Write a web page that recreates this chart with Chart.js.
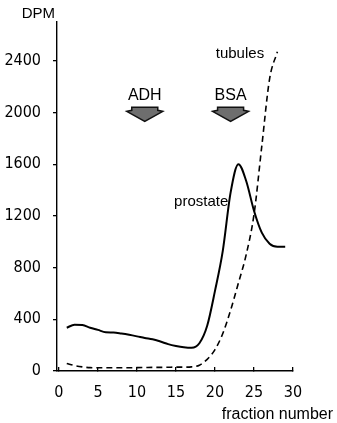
<!DOCTYPE html>
<html lang="en">
<head>
<meta charset="UTF-8">
<title>DPM per fraction</title>
<script src="https://cdn.jsdelivr.net/npm/chart.js"></script>
<style>
    html, body { margin: 0; padding: 0; background: #fff; }
    #wrap { width: 337px; height: 423px; }
</style>
</head>
<body>
<div id="wrap"><canvas id="chart" width="337" height="423"></canvas></div>
<script>
// fractions and DPM
const prostateFractions = [1, 2, 3, 4, 5, 6, 7, 8, 9, 10, 11, 12, 13, 14, 15, 16, 17, 18, 19, 20, 21, 22, 23, 24, 25, 26, 27, 28, 29];
const prostateDpm = [335, 358, 355, 335, 318, 300, 298, 290, 280, 268, 255, 245, 228, 208, 194, 184, 180, 215, 350, 620, 930, 1380, 1600, 1470, 1240, 1070, 985, 962, 962];

const tubulesFractions = [1, 2, 3, 4, 5, 6, 7, 8, 9, 10, 11, 12, 13, 14, 15, 16, 17, 18, 19, 20, 21, 22, 23, 24, 25, 26, 27, 28];
const tubulesDpm = [58, 42, 32, 26, 25, 25, 25, 25, 25, 26, 27, 28, 28, 29, 30, 30, 32, 45, 90, 165, 290, 470, 680, 900, 1210, 1740, 2260, 2470];

const xTicks = [0, 5, 10, 15, 20, 25, 30];
const yTicks = [0, 400, 800, 1200, 1600, 2000, 2400];

// enzyme markers (fraction, DPM at arrow top)
const markerLabels = ['ADH', 'BSA'];
const markerFractions = [11, 22];
const markerDpm = 2040;

const numFont = { family: '"DejaVu Sans Condensed", sans-serif', size: 16 };
const textFont = '15px "Liberation Sans", Arial, sans-serif';

function toPoints(xs, ys) {
    return xs.map((x, i) => ({ x: x, y: ys[i] }));
}

const annotations = {
    id: 'annotations',
    afterDraw(chart) {
        const ctx = chart.ctx;
        const x = chart.scales.x;
        const y = chart.scales.y;
        ctx.save();
        ctx.fillStyle = '#000';

        // axis names
        ctx.font = textFont;
        ctx.textAlign = 'right';
        ctx.textBaseline = 'middle';
        ctx.fillText('DPM', x.left - 2, 14);
        ctx.font = '16px "Liberation Sans", Arial, sans-serif';
        ctx.fillText('fraction number', x.right + 40, chart.chartArea.bottom + 44);

        // curve labels
        ctx.font = textFont;
        ctx.fillText('tubules', x.getPixelForValue(26.3), y.getPixelForValue(2450));
        ctx.fillText('prostate', x.getPixelForValue(21.7), y.getPixelForValue(1310));

        // arrows
        markerLabels.forEach((label, i) => {
            const cx = x.getPixelForValue(markerFractions[i]);
            const top = y.getPixelForValue(markerDpm);
            ctx.font = '16px "Liberation Sans", Arial, sans-serif';
            ctx.textAlign = 'center';
            ctx.textBaseline = 'alphabetic';
            ctx.fillStyle = '#000';
            ctx.fillText(label, cx, top - 7);

            ctx.beginPath();
            ctx.moveTo(cx - 13, top);
            ctx.lineTo(cx + 13, top);
            ctx.lineTo(cx + 13, top + 3);
            ctx.lineTo(cx + 18, top + 4);
            ctx.lineTo(cx, top + 14);
            ctx.lineTo(cx - 18, top + 4);
            ctx.lineTo(cx - 13, top + 3);
            ctx.closePath();
            ctx.fillStyle = '#6e6e6e';
            ctx.fill();
            ctx.lineWidth = 1.5;
            ctx.strokeStyle = '#111';
            ctx.stroke();
        });
        ctx.restore();
    }
};

new Chart(document.getElementById('chart'), {
    type: 'scatter',
    data: {
        datasets: [
            {
                label: 'prostate',
                data: toPoints(prostateFractions, prostateDpm),
                showLine: true,
                borderColor: '#000',
                borderWidth: 2,
                pointRadius: 0,
                cubicInterpolationMode: 'monotone'
            },
            {
                label: 'tubules',
                data: toPoints(tubulesFractions, tubulesDpm),
                showLine: true,
                borderColor: '#000',
                borderWidth: 1.6,
                borderDash: [6, 4],
                pointRadius: 0,
                cubicInterpolationMode: 'monotone'
            }
        ]
    },
    options: {
        responsive: false,
        animation: false,
        devicePixelRatio: 1,
        layout: { padding: { top: 22, right: 44, left: 0, bottom: 0 } },
        plugins: {
            legend: { display: false },
            tooltip: { enabled: false }
        },
        scales: {
            x: {
                type: 'linear',
                min: -0.25,
                max: 30,
                afterBuildTicks: (s) => { s.ticks = xTicks.map(v => ({ value: v })); },
                afterFit: (s) => { s.height = 52; },
                ticks: { color: '#000', font: numFont, padding: 16, maxRotation: 0, callback: (v) => String(v) },
                grid: { drawOnChartArea: false, drawTicks: true, tickLength: -4, color: '#000', lineWidth: 1.3 },
                border: { color: '#000', width: 1.4 }
            },
            y: {
                min: 0,
                max: 2700,
                afterBuildTicks: (s) => { s.ticks = yTicks.map(v => ({ value: v })); },
                afterFit: (s) => { s.width = 57; },
                ticks: { color: '#000', font: numFont, padding: 12, callback: (v) => String(v) },
                grid: { drawOnChartArea: false, drawTicks: true, tickLength: 4, color: '#000', lineWidth: 1.3 },
                border: { color: '#000', width: 1.4 }
            }
        }
    },
    plugins: [annotations]
});
</script>
</body>
</html>
